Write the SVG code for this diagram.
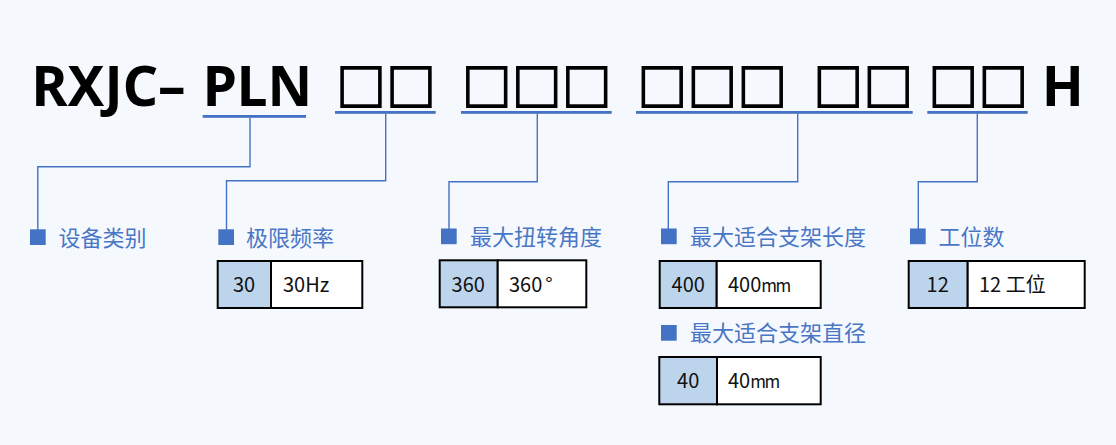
<svg xmlns="http://www.w3.org/2000/svg" width="1116" height="445" viewBox="0 0 1116 445">
<style>
.title{font-family:"Noto Sans","Liberation Sans",sans-serif;font-weight:700;font-size:55px;fill:#000}
.box{font-family:"Noto Sans CJK SC",sans-serif;font-weight:700;font-size:50px;fill:#000;stroke:#000;stroke-width:1.4}
.ul{fill:#4472C4}
.conn{fill:none;stroke:#4472C4;stroke-width:1.4}
.mark{fill:#4472C4}
.lbl{font-family:"Noto Sans CJK SC",sans-serif;font-size:22px;fill:#4A76C6}
.kc{fill:#BDD5EC;stroke:#000;stroke-width:2}
.vc{fill:#FFFFFF;stroke:#000;stroke-width:2}
.tv{font-family:"Noto Sans CJK SC",sans-serif;font-size:20px;fill:#111}
.mm{font-size:17px;letter-spacing:-1.5px}
</style>
<rect x="0" y="0" width="1116" height="445" fill="#F5F9FD"/>
<g id="title">
<text class="title" x="31.5" y="105.7">RXJC–<tspan x="202.7">PLN</tspan></text>
<text class="box" x="336 386" y="106">□□</text>
<text class="box" x="461.7 511.7 561.7" y="106">□□□</text>
<text class="box" x="637.3 687.3 737.3" y="106">□□□</text>
<text class="box" x="813.3 863.3" y="106">□□</text>
<text class="box" x="928.3 978.3" y="106">□□</text>
<text class="title" x="1041.7" y="105.7">H</text>
<rect class="ul" x="202.7" y="115" width="103.3" height="2.8"/>
<rect class="ul" x="335" y="111" width="100.7" height="2.8"/>
<rect class="ul" x="461" y="111" width="150.7" height="2.8"/>
<rect class="ul" x="636" y="111" width="276.7" height="2.8"/>
<rect class="ul" x="927.3" y="111" width="100.4" height="2.8"/>
</g>
<g id="connectors">
<path class="conn" d="M250 117.8V166.7H37.8V230"/>
<path class="conn" d="M385.7 113.8V180.7H226.5V230"/>
<path class="conn" d="M537.3 113.8V181.7H449V229"/>
<path class="conn" d="M797.7 113.8V181.7H668.3V229"/>
<path class="conn" d="M977.3 113.8V181.7H918.3V229"/>
</g>
<g id="node-type">
<rect class="mark" x="30" y="229.3" width="15.7" height="15.7"/>
<text class="lbl" x="58.5" y="245.5">设备类别</text>
</g>
<g id="node-freq">
<rect class="mark" x="218.3" y="229.3" width="15.7" height="15.7"/>
<text class="lbl" x="246" y="245.5">极限频率</text>
<rect class="kc" x="217.7" y="261" width="53.3" height="47"/>
<rect class="vc" x="271" y="261" width="91.3" height="47"/>
<text class="tv" x="244" y="292" text-anchor="middle">30</text>
<text class="tv" x="283" y="292">30Hz</text>
</g>
<g id="node-angle">
<rect class="mark" x="441" y="228.5" width="15.7" height="15.7"/>
<text class="lbl" x="470" y="245">最大扭转角度</text>
<rect class="kc" x="439.7" y="260.3" width="58" height="47"/>
<rect class="vc" x="497.7" y="260.3" width="88.6" height="47"/>
<text class="tv" x="468.2" y="291.5" text-anchor="middle">360</text>
<text class="tv" x="509" y="291.5">360<tspan dx="3">°</tspan></text>
</g>
<g id="node-length">
<rect class="mark" x="661" y="228.5" width="15.7" height="15.7"/>
<text class="lbl" x="690" y="245">最大适合支架长度</text>
<rect class="kc" x="659.7" y="261" width="57" height="47"/>
<rect class="vc" x="716.7" y="261" width="104" height="47"/>
<text class="tv" x="688.2" y="292" text-anchor="middle">400</text>
<text class="tv" x="728" y="292">400<tspan class="mm">mm</tspan></text>
</g>
<g id="node-diameter">
<rect class="mark" x="661" y="325" width="15.7" height="15.7"/>
<text class="lbl" x="690" y="341.3">最大适合支架直径</text>
<rect class="kc" x="659.3" y="357" width="57.7" height="47.3"/>
<rect class="vc" x="717" y="357" width="103.7" height="47.3"/>
<text class="tv" x="688.2" y="388.3" text-anchor="middle">40</text>
<text class="tv" x="728" y="388.3">40<tspan class="mm">mm</tspan></text>
</g>
<g id="node-stations">
<rect class="mark" x="910" y="228.5" width="15.7" height="15.7"/>
<text class="lbl" x="938.5" y="245">工位数</text>
<rect class="kc" x="908.7" y="261" width="59" height="47"/>
<rect class="vc" x="967.7" y="261" width="117" height="47"/>
<text class="tv" x="937.7" y="292" text-anchor="middle">12</text>
<text class="tv" x="979" y="292">12 工位</text>
</g>
</svg>
